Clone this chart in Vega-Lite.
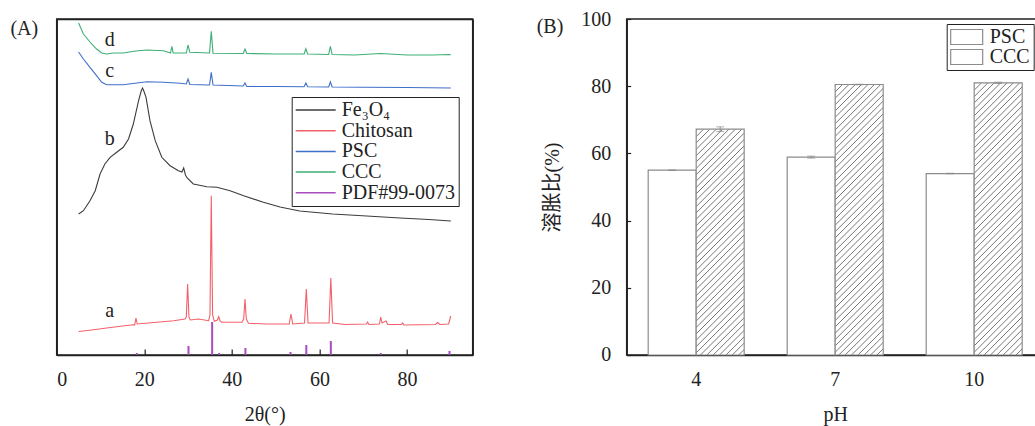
{
"$schema": "https://vega.github.io/schema/vega-lite/v6.json",
"padding": {"left": 8.7, "top": 8, "right": 0, "bottom": 0},
"bounds": "flush",
"spacing": 154,
"resolve": {"scale": {"color": "independent", "stroke": "independent"}, "legend": {"color": "independent", "stroke": "independent"}},
"datasets": {
"xrd": [
{"s":"Fe₃O₄","t":5,"i":141},{"s":"Fe₃O₄","t":6.1,"i":144.3},{"s":"Fe₃O₄","t":7.6,"i":154.3},{"s":"Fe₃O₄","t":8.8,"i":164.3},{"s":"Fe₃O₄","t":9.9,"i":181},{"s":"Fe₃O₄","t":11,"i":191},{"s":"Fe₃O₄","t":12.2,"i":197.7},{"s":"Fe₃O₄","t":13.7,"i":202.7},{"s":"Fe₃O₄","t":15.2,"i":207.7},{"s":"Fe₃O₄","t":16.4,"i":216},{"s":"Fe₃O₄","t":17.5,"i":231},{"s":"Fe₃O₄","t":18.7,"i":254.3},{"s":"Fe₃O₄","t":19.3,"i":264},{"s":"Fe₃O₄","t":19.6,"i":267},{"s":"Fe₃O₄","t":19.9,"i":264},{"s":"Fe₃O₄","t":20.4,"i":257.7},{"s":"Fe₃O₄","t":21.3,"i":234.3},{"s":"Fe₃O₄","t":22.5,"i":214.3},{"s":"Fe₃O₄","t":24,"i":197.7},{"s":"Fe₃O₄","t":25.9,"i":189.3},{"s":"Fe₃O₄","t":27.8,"i":184.3},{"s":"Fe₃O₄","t":28.6,"i":183},{"s":"Fe₃O₄","t":29,"i":187},{"s":"Fe₃O₄","t":29.4,"i":180},{"s":"Fe₃O₄","t":29.8,"i":177},{"s":"Fe₃O₄","t":31.2,"i":171},{"s":"Fe₃O₄","t":34.3,"i":168.3},{"s":"Fe₃O₄","t":36.6,"i":167.7},{"s":"Fe₃O₄","t":39.6,"i":164.3},{"s":"Fe₃O₄","t":42.7,"i":159.3},{"s":"Fe₃O₄","t":47.2,"i":152.7},{"s":"Fe₃O₄","t":51,"i":148},{"s":"Fe₃O₄","t":55.5,"i":144},{"s":"Fe₃O₄","t":63,"i":141},{"s":"Fe₃O₄","t":70.8,"i":139},{"s":"Fe₃O₄","t":78.4,"i":137},{"s":"Fe₃O₄","t":85,"i":135.5},{"s":"Fe₃O₄","t":90,"i":134},
{"s":"Chitosan","t":5,"i":23.5},{"s":"Chitosan","t":8,"i":25},{"s":"Chitosan","t":11.4,"i":27},{"s":"Chitosan","t":15,"i":29},{"s":"Chitosan","t":17.5,"i":30.3},{"s":"Chitosan","t":17.8,"i":30},{"s":"Chitosan","t":18.1,"i":37},{"s":"Chitosan","t":18.4,"i":31},{"s":"Chitosan","t":22.9,"i":32.7},{"s":"Chitosan","t":26.7,"i":34.3},{"s":"Chitosan","t":29.3,"i":36},{"s":"Chitosan","t":29.6,"i":38},{"s":"Chitosan","t":29.9,"i":71},{"s":"Chitosan","t":30.2,"i":38},{"s":"Chitosan","t":30.5,"i":35},{"s":"Chitosan","t":32.4,"i":36},{"s":"Chitosan","t":34.7,"i":34.3},{"s":"Chitosan","t":35,"i":40},{"s":"Chitosan","t":35.3,"i":159.3},{"s":"Chitosan","t":35.6,"i":40},{"s":"Chitosan","t":36,"i":33.7},{"s":"Chitosan","t":36.7,"i":35},{"s":"Chitosan","t":37,"i":38.3},{"s":"Chitosan","t":37.3,"i":34},{"s":"Chitosan","t":37.7,"i":32.7},{"s":"Chitosan","t":42.3,"i":32.7},{"s":"Chitosan","t":42.7,"i":36},{"s":"Chitosan","t":43,"i":56},{"s":"Chitosan","t":43.3,"i":36},{"s":"Chitosan","t":43.8,"i":31.7},{"s":"Chitosan","t":48,"i":31},{"s":"Chitosan","t":53.1,"i":31},{"s":"Chitosan","t":53.5,"i":41},{"s":"Chitosan","t":53.9,"i":31},{"s":"Chitosan","t":56.6,"i":32},{"s":"Chitosan","t":57,"i":66},{"s":"Chitosan","t":57.4,"i":32},{"s":"Chitosan","t":62.2,"i":32},{"s":"Chitosan","t":62.6,"i":77},{"s":"Chitosan","t":63,"i":32},{"s":"Chitosan","t":66,"i":30.5},{"s":"Chitosan","t":70.7,"i":31},{"s":"Chitosan","t":71,"i":33},{"s":"Chitosan","t":71.3,"i":30.5},{"s":"Chitosan","t":73.7,"i":31},{"s":"Chitosan","t":74,"i":38},{"s":"Chitosan","t":74.3,"i":32},{"s":"Chitosan","t":75.2,"i":34},{"s":"Chitosan","t":75.6,"i":30.5},{"s":"Chitosan","t":78.7,"i":30.5},{"s":"Chitosan","t":79,"i":32},{"s":"Chitosan","t":79.3,"i":30},{"s":"Chitosan","t":86.5,"i":30.5},{"s":"Chitosan","t":87,"i":32.5},{"s":"Chitosan","t":87.5,"i":30.5},{"s":"Chitosan","t":89.5,"i":31},{"s":"Chitosan","t":90,"i":39},
{"s":"PSC","t":5,"i":303},{"s":"PSC","t":6.1,"i":296},{"s":"PSC","t":7.6,"i":287.7},{"s":"PSC","t":9.1,"i":279.3},{"s":"PSC","t":10.3,"i":272.7},{"s":"PSC","t":11.4,"i":270.3},{"s":"PSC","t":15.2,"i":270.3},{"s":"PSC","t":20.6,"i":273.3},{"s":"PSC","t":24.4,"i":272.7},{"s":"PSC","t":28.2,"i":271.7},{"s":"PSC","t":29.6,"i":271},{"s":"PSC","t":30,"i":276},{"s":"PSC","t":30.4,"i":270.5},{"s":"PSC","t":34.9,"i":270},{"s":"PSC","t":35.3,"i":282.7},{"s":"PSC","t":35.7,"i":270},{"s":"PSC","t":42.6,"i":269},{"s":"PSC","t":43,"i":272},{"s":"PSC","t":43.4,"i":268.5},{"s":"PSC","t":50,"i":268.5},{"s":"PSC","t":56.5,"i":268.3},{"s":"PSC","t":56.9,"i":272},{"s":"PSC","t":57.3,"i":268.3},{"s":"PSC","t":62.1,"i":268},{"s":"PSC","t":62.5,"i":273},{"s":"PSC","t":62.9,"i":268},{"s":"PSC","t":70,"i":267.7},{"s":"PSC","t":80,"i":267.5},{"s":"PSC","t":90,"i":267},
{"s":"CCC","t":5,"i":332},{"s":"CCC","t":6.1,"i":321},{"s":"CCC","t":7.6,"i":313},{"s":"CCC","t":9.1,"i":306},{"s":"CCC","t":10.3,"i":302},{"s":"CCC","t":11.4,"i":301},{"s":"CCC","t":13,"i":302},{"s":"CCC","t":15.2,"i":302},{"s":"CCC","t":18,"i":304},{"s":"CCC","t":20.6,"i":305},{"s":"CCC","t":24.4,"i":304.3},{"s":"CCC","t":26,"i":302},{"s":"CCC","t":26.3,"i":308.7},{"s":"CCC","t":26.6,"i":302},{"s":"CCC","t":29.6,"i":302},{"s":"CCC","t":30,"i":310},{"s":"CCC","t":30.4,"i":302.7},{"s":"CCC","t":34.9,"i":302},{"s":"CCC","t":35.3,"i":323.7},{"s":"CCC","t":35.7,"i":301.7},{"s":"CCC","t":42.6,"i":301.5},{"s":"CCC","t":43,"i":306},{"s":"CCC","t":43.4,"i":301.5},{"s":"CCC","t":50,"i":301},{"s":"CCC","t":56.5,"i":301},{"s":"CCC","t":56.9,"i":306.3},{"s":"CCC","t":57.3,"i":301},{"s":"CCC","t":62.1,"i":300.5},{"s":"CCC","t":62.5,"i":308.7},{"s":"CCC","t":62.9,"i":300.5},{"s":"CCC","t":68,"i":300},{"s":"CCC","t":74,"i":301.5},{"s":"CCC","t":80,"i":300},{"s":"CCC","t":86,"i":300},{"s":"CCC","t":89.5,"i":300.5},{"s":"CCC","t":90,"i":300.3}
],
"sticks": [
{"s":"PDF#99-0073","t":18.3,"i":2},{"s":"PDF#99-0073","t":30.1,"i":9},{"s":"PDF#99-0073","t":35.5,"i":33},{"s":"PDF#99-0073","t":37.1,"i":2},{"s":"PDF#99-0073","t":43.1,"i":7},{"s":"PDF#99-0073","t":53.4,"i":3},{"s":"PDF#99-0073","t":57,"i":10},{"s":"PDF#99-0073","t":62.6,"i":14},{"s":"PDF#99-0073","t":74,"i":2},{"s":"PDF#99-0073","t":89.7,"i":4}
],
"labels": [
{"t":12.1,"i":315,"lab":"d"},{"t":12.1,"i":283.7,"lab":"c"},{"t":12.1,"i":216,"lab":"b"},{"t":12.1,"i":44.3,"lab":"a"}
],
"bars": [
{"pH":"4","s":"PSC","v":55.0,"lo":54.9,"hi":55.1},
{"pH":"4","s":"CCC","v":67.2,"lo":66.5,"hi":67.9},
{"pH":"7","s":"PSC","v":58.9,"lo":58.6,"hi":59.2},
{"pH":"7","s":"CCC","v":80.5,"lo":80.4,"hi":80.6},
{"pH":"10","s":"PSC","v":54.0,"lo":53.9,"hi":54.1},
{"pH":"10","s":"CCC","v":81.0,"lo":80.8,"hi":81.2}
]
},
"hconcat": [
{
"width": 416, "height": 336,
"view": {"stroke": "#222", "strokeWidth": 1.5},
"title": {"text": "(A)", "anchor": "start", "frame": "group", "orient": "top", "offset": 0, "dx": -46.3, "dy": 29.5, "baseline": "middle", "font": "Liberation Serif", "fontSize": 20, "fontWeight": "normal", "color": "#222"},
"resolve": {"scale": {"x": "independent", "y": "independent"}},
"layer": [
{"data": {"name": "xrd"}, "mark": {"type": "line", "strokeWidth": 1.1},
 "encoding": {
  "x": {"field": "t", "type": "quantitative", "scale": {"domain": [0, 95], "nice": false}, "axis": {"values": [0, 20, 40, 60, 80], "tickSize": -6, "labelPadding": 21, "title": "2θ(°)", "titlePadding": 15}},
  "y": {"field": "i", "type": "quantitative", "scale": {"domain": [0, 336], "nice": false}, "axis": {"orient": "left", "labels": false, "ticks": false, "title": null}},
  "color": {"field": "s", "type": "nominal", "scale": {"domain": ["Fe₃O₄", "Chitosan", "PSC", "CCC", "PDF#99-0073"], "range": ["#3c3c3c", "#f2616b", "#3f6fc9", "#3daf74", "#a84cc0"]},
   "legend": {"title": null, "orient": "none", "legendX": 235, "legendY": 78, "symbolType": "stroke", "symbolSize": 1600, "symbolStrokeWidth": 1.5, "labelFont": "Liberation Serif", "labelFontSize": 20, "labelColor": "#222", "labelOffset": 5, "labelLimit": 300, "strokeColor": "#222", "padding": 3, "rowPadding": 0.7, "clipHeight": 20}}
 }},
{"data": {"name": "sticks"}, "mark": {"type": "rule", "strokeWidth": 2},
 "encoding": {"x": {"field": "t", "type": "quantitative", "scale": {"domain": [0, 95], "nice": false}, "axis": {"orient": "top", "labels": false, "ticks": false, "title": null}}, "y": {"field": "i", "type": "quantitative", "scale": {"domain": [0, 336], "nice": false}, "axis": null}, "y2": {"datum": 0}, "color": {"field": "s", "type": "nominal"}}},
{"data": {"name": "labels"}, "mark": {"type": "text", "font": "Liberation Serif", "fontSize": 20, "color": "#222"},
 "encoding": {"x": {"field": "t", "type": "quantitative", "scale": {"domain": [0, 95], "nice": false}, "axis": null}, "y": {"field": "i", "type": "quantitative", "scale": {"domain": [0, 336], "nice": false}, "axis": {"orient": "right", "labels": false, "ticks": false, "title": null}}, "text": {"field": "lab"}}}
]
},
{
"width": 417, "height": 336,
"view": {"stroke": "#222", "strokeWidth": 1.5},
"title": {"text": "(B)", "anchor": "start", "frame": "group", "orient": "top", "offset": 0, "dx": -90, "dy": 37.5, "baseline": "middle", "font": "Liberation Serif", "fontSize": 20, "fontWeight": "normal", "color": "#222"},
"data": {"name": "bars"},
"encoding": {
 "x": {"field": "pH", "type": "nominal", "scale": {"domain": ["4", "7", "10"], "paddingInner": 0, "paddingOuter": 0}, "axis": {"labelAngle": 0, "tickSize": -6, "labelPadding": 21, "title": "pH", "titlePadding": 15}},
 "xOffset": {"field": "s", "type": "nominal", "scale": {"domain": ["PSC", "CCC"], "paddingInner": 0, "paddingOuter": 0.448}},
 "y": {"field": "v", "type": "quantitative", "scale": {"domain": [0, 100], "nice": false}, "axis": {"values": [0, 20, 40, 60, 80, 100], "tickSize": -4, "labelPadding": 20, "title": "溶胀比(%)", "titleFont": "Liberation Serif, Noto Sans CJK SC", "titlePadding": 18}}
},
"layer": [
{"transform": [{"filter": "datum.s == 'PSC'"}], "mark": {"type": "bar", "fill": "#fff", "strokeWidth": 1.2},
 "encoding": {"stroke": {"field": "s", "type": "nominal", "scale": {"domain": ["PSC", "CCC"], "range": ["#8c8c8c", "#8c8c8c"]},
  "legend": {"title": null, "orient": "none", "legendX": 320, "legendY": 5, "symbolType": "M-1,-0.47H1V0.47H-1Z", "symbolSize": 1024, "symbolStrokeWidth": 1.2, "labelFont": "Liberation Serif", "labelFontSize": 20, "labelColor": "#222", "labelOffset": 6, "strokeColor": "#222", "padding": 3, "rowPadding": 0, "clipHeight": 20}}}},
{"transform": [{"filter": "datum.s == 'CCC' && datum.pH == '4'"}],
 "mark": {"type": "bar", "strokeWidth": 1.2, "fill": {"gradient": "linear", "x1": 0, "y1": 0, "x2": 0.2866, "y2": 1.3483, "stops": [
{"offset":0,"color":"#fff"},{"offset":0.003,"color":"#707070"},{"offset":0.006,"color":"#fff"},{"offset":0.02,"color":"#fff"},{"offset":0.023,"color":"#707070"},{"offset":0.026,"color":"#fff"},{"offset":0.04,"color":"#fff"},{"offset":0.043,"color":"#707070"},{"offset":0.046,"color":"#fff"},{"offset":0.06,"color":"#fff"},{"offset":0.063,"color":"#707070"},{"offset":0.066,"color":"#fff"},{"offset":0.08,"color":"#fff"},{"offset":0.083,"color":"#707070"},{"offset":0.086,"color":"#fff"},{"offset":0.1,"color":"#fff"},{"offset":0.103,"color":"#707070"},{"offset":0.106,"color":"#fff"},{"offset":0.12,"color":"#fff"},{"offset":0.123,"color":"#707070"},{"offset":0.126,"color":"#fff"},{"offset":0.14,"color":"#fff"},{"offset":0.143,"color":"#707070"},{"offset":0.146,"color":"#fff"},{"offset":0.16,"color":"#fff"},{"offset":0.163,"color":"#707070"},{"offset":0.166,"color":"#fff"},{"offset":0.18,"color":"#fff"},{"offset":0.183,"color":"#707070"},{"offset":0.186,"color":"#fff"},{"offset":0.2,"color":"#fff"},{"offset":0.203,"color":"#707070"},{"offset":0.206,"color":"#fff"},{"offset":0.22,"color":"#fff"},{"offset":0.223,"color":"#707070"},{"offset":0.226,"color":"#fff"},{"offset":0.24,"color":"#fff"},{"offset":0.243,"color":"#707070"},{"offset":0.246,"color":"#fff"},{"offset":0.26,"color":"#fff"},{"offset":0.263,"color":"#707070"},{"offset":0.266,"color":"#fff"},{"offset":0.28,"color":"#fff"},{"offset":0.283,"color":"#707070"},{"offset":0.286,"color":"#fff"},{"offset":0.3,"color":"#fff"},{"offset":0.303,"color":"#707070"},{"offset":0.306,"color":"#fff"},{"offset":0.32,"color":"#fff"},{"offset":0.323,"color":"#707070"},{"offset":0.326,"color":"#fff"},{"offset":0.34,"color":"#fff"},{"offset":0.343,"color":"#707070"},{"offset":0.346,"color":"#fff"},{"offset":0.36,"color":"#fff"},{"offset":0.363,"color":"#707070"},{"offset":0.366,"color":"#fff"},{"offset":0.38,"color":"#fff"},{"offset":0.383,"color":"#707070"},{"offset":0.386,"color":"#fff"},{"offset":0.4,"color":"#fff"},{"offset":0.403,"color":"#707070"},{"offset":0.406,"color":"#fff"},{"offset":0.42,"color":"#fff"},{"offset":0.423,"color":"#707070"},{"offset":0.426,"color":"#fff"},{"offset":0.44,"color":"#fff"},{"offset":0.443,"color":"#707070"},{"offset":0.446,"color":"#fff"},{"offset":0.46,"color":"#fff"},{"offset":0.463,"color":"#707070"},{"offset":0.466,"color":"#fff"},{"offset":0.48,"color":"#fff"},{"offset":0.483,"color":"#707070"},{"offset":0.486,"color":"#fff"},{"offset":0.5,"color":"#fff"},{"offset":0.503,"color":"#707070"},{"offset":0.506,"color":"#fff"},{"offset":0.52,"color":"#fff"},{"offset":0.523,"color":"#707070"},{"offset":0.526,"color":"#fff"},{"offset":0.54,"color":"#fff"},{"offset":0.543,"color":"#707070"},{"offset":0.546,"color":"#fff"},{"offset":0.56,"color":"#fff"},{"offset":0.563,"color":"#707070"},{"offset":0.566,"color":"#fff"},{"offset":0.58,"color":"#fff"},{"offset":0.583,"color":"#707070"},{"offset":0.586,"color":"#fff"},{"offset":0.6,"color":"#fff"},{"offset":0.603,"color":"#707070"},{"offset":0.606,"color":"#fff"},{"offset":0.62,"color":"#fff"},{"offset":0.623,"color":"#707070"},{"offset":0.626,"color":"#fff"},{"offset":0.64,"color":"#fff"},{"offset":0.643,"color":"#707070"},{"offset":0.646,"color":"#fff"},{"offset":0.66,"color":"#fff"},{"offset":0.663,"color":"#707070"},{"offset":0.666,"color":"#fff"},{"offset":0.68,"color":"#fff"},{"offset":0.683,"color":"#707070"},{"offset":0.686,"color":"#fff"},{"offset":0.7,"color":"#fff"},{"offset":0.703,"color":"#707070"},{"offset":0.706,"color":"#fff"},{"offset":0.72,"color":"#fff"},{"offset":0.723,"color":"#707070"},{"offset":0.726,"color":"#fff"},{"offset":0.74,"color":"#fff"},{"offset":0.743,"color":"#707070"},{"offset":0.746,"color":"#fff"},{"offset":0.76,"color":"#fff"},{"offset":0.763,"color":"#707070"},{"offset":0.766,"color":"#fff"},{"offset":0.78,"color":"#fff"},{"offset":0.783,"color":"#707070"},{"offset":0.786,"color":"#fff"},{"offset":0.8,"color":"#fff"},{"offset":0.803,"color":"#707070"},{"offset":0.806,"color":"#fff"},{"offset":0.82,"color":"#fff"},{"offset":0.823,"color":"#707070"},{"offset":0.826,"color":"#fff"},{"offset":0.84,"color":"#fff"},{"offset":0.843,"color":"#707070"},{"offset":0.846,"color":"#fff"},{"offset":0.86,"color":"#fff"},{"offset":0.863,"color":"#707070"},{"offset":0.866,"color":"#fff"},{"offset":0.88,"color":"#fff"},{"offset":0.883,"color":"#707070"},{"offset":0.886,"color":"#fff"},{"offset":0.9,"color":"#fff"},{"offset":0.903,"color":"#707070"},{"offset":0.906,"color":"#fff"},{"offset":0.92,"color":"#fff"},{"offset":0.923,"color":"#707070"},{"offset":0.926,"color":"#fff"},{"offset":0.94,"color":"#fff"},{"offset":0.943,"color":"#707070"},{"offset":0.946,"color":"#fff"},{"offset":0.96,"color":"#fff"},{"offset":0.963,"color":"#707070"},{"offset":0.966,"color":"#fff"},{"offset":0.98,"color":"#fff"},{"offset":0.983,"color":"#707070"},{"offset":0.986,"color":"#fff"}]}},
 "encoding": {"stroke": {"field": "s", "type": "nominal"}}},
{"transform": [{"filter": "datum.s == 'CCC' && datum.pH != '4'"}],
 "mark": {"type": "bar", "strokeWidth": 1.2, "fill": {"gradient": "linear", "x1": 0, "y1": 0, "x2": 0.2016, "y2": 1.1384, "stops": [
{"offset":0,"color":"#fff"},{"offset":0.003,"color":"#707070"},{"offset":0.006,"color":"#fff"},{"offset":0.02,"color":"#fff"},{"offset":0.023,"color":"#707070"},{"offset":0.026,"color":"#fff"},{"offset":0.04,"color":"#fff"},{"offset":0.043,"color":"#707070"},{"offset":0.046,"color":"#fff"},{"offset":0.06,"color":"#fff"},{"offset":0.063,"color":"#707070"},{"offset":0.066,"color":"#fff"},{"offset":0.08,"color":"#fff"},{"offset":0.083,"color":"#707070"},{"offset":0.086,"color":"#fff"},{"offset":0.1,"color":"#fff"},{"offset":0.103,"color":"#707070"},{"offset":0.106,"color":"#fff"},{"offset":0.12,"color":"#fff"},{"offset":0.123,"color":"#707070"},{"offset":0.126,"color":"#fff"},{"offset":0.14,"color":"#fff"},{"offset":0.143,"color":"#707070"},{"offset":0.146,"color":"#fff"},{"offset":0.16,"color":"#fff"},{"offset":0.163,"color":"#707070"},{"offset":0.166,"color":"#fff"},{"offset":0.18,"color":"#fff"},{"offset":0.183,"color":"#707070"},{"offset":0.186,"color":"#fff"},{"offset":0.2,"color":"#fff"},{"offset":0.203,"color":"#707070"},{"offset":0.206,"color":"#fff"},{"offset":0.22,"color":"#fff"},{"offset":0.223,"color":"#707070"},{"offset":0.226,"color":"#fff"},{"offset":0.24,"color":"#fff"},{"offset":0.243,"color":"#707070"},{"offset":0.246,"color":"#fff"},{"offset":0.26,"color":"#fff"},{"offset":0.263,"color":"#707070"},{"offset":0.266,"color":"#fff"},{"offset":0.28,"color":"#fff"},{"offset":0.283,"color":"#707070"},{"offset":0.286,"color":"#fff"},{"offset":0.3,"color":"#fff"},{"offset":0.303,"color":"#707070"},{"offset":0.306,"color":"#fff"},{"offset":0.32,"color":"#fff"},{"offset":0.323,"color":"#707070"},{"offset":0.326,"color":"#fff"},{"offset":0.34,"color":"#fff"},{"offset":0.343,"color":"#707070"},{"offset":0.346,"color":"#fff"},{"offset":0.36,"color":"#fff"},{"offset":0.363,"color":"#707070"},{"offset":0.366,"color":"#fff"},{"offset":0.38,"color":"#fff"},{"offset":0.383,"color":"#707070"},{"offset":0.386,"color":"#fff"},{"offset":0.4,"color":"#fff"},{"offset":0.403,"color":"#707070"},{"offset":0.406,"color":"#fff"},{"offset":0.42,"color":"#fff"},{"offset":0.423,"color":"#707070"},{"offset":0.426,"color":"#fff"},{"offset":0.44,"color":"#fff"},{"offset":0.443,"color":"#707070"},{"offset":0.446,"color":"#fff"},{"offset":0.46,"color":"#fff"},{"offset":0.463,"color":"#707070"},{"offset":0.466,"color":"#fff"},{"offset":0.48,"color":"#fff"},{"offset":0.483,"color":"#707070"},{"offset":0.486,"color":"#fff"},{"offset":0.5,"color":"#fff"},{"offset":0.503,"color":"#707070"},{"offset":0.506,"color":"#fff"},{"offset":0.52,"color":"#fff"},{"offset":0.523,"color":"#707070"},{"offset":0.526,"color":"#fff"},{"offset":0.54,"color":"#fff"},{"offset":0.543,"color":"#707070"},{"offset":0.546,"color":"#fff"},{"offset":0.56,"color":"#fff"},{"offset":0.563,"color":"#707070"},{"offset":0.566,"color":"#fff"},{"offset":0.58,"color":"#fff"},{"offset":0.583,"color":"#707070"},{"offset":0.586,"color":"#fff"},{"offset":0.6,"color":"#fff"},{"offset":0.603,"color":"#707070"},{"offset":0.606,"color":"#fff"},{"offset":0.62,"color":"#fff"},{"offset":0.623,"color":"#707070"},{"offset":0.626,"color":"#fff"},{"offset":0.64,"color":"#fff"},{"offset":0.643,"color":"#707070"},{"offset":0.646,"color":"#fff"},{"offset":0.66,"color":"#fff"},{"offset":0.663,"color":"#707070"},{"offset":0.666,"color":"#fff"},{"offset":0.68,"color":"#fff"},{"offset":0.683,"color":"#707070"},{"offset":0.686,"color":"#fff"},{"offset":0.7,"color":"#fff"},{"offset":0.703,"color":"#707070"},{"offset":0.706,"color":"#fff"},{"offset":0.72,"color":"#fff"},{"offset":0.723,"color":"#707070"},{"offset":0.726,"color":"#fff"},{"offset":0.74,"color":"#fff"},{"offset":0.743,"color":"#707070"},{"offset":0.746,"color":"#fff"},{"offset":0.76,"color":"#fff"},{"offset":0.763,"color":"#707070"},{"offset":0.766,"color":"#fff"},{"offset":0.78,"color":"#fff"},{"offset":0.783,"color":"#707070"},{"offset":0.786,"color":"#fff"},{"offset":0.8,"color":"#fff"},{"offset":0.803,"color":"#707070"},{"offset":0.806,"color":"#fff"},{"offset":0.82,"color":"#fff"},{"offset":0.823,"color":"#707070"},{"offset":0.826,"color":"#fff"},{"offset":0.84,"color":"#fff"},{"offset":0.843,"color":"#707070"},{"offset":0.846,"color":"#fff"},{"offset":0.86,"color":"#fff"},{"offset":0.863,"color":"#707070"},{"offset":0.866,"color":"#fff"},{"offset":0.88,"color":"#fff"},{"offset":0.883,"color":"#707070"},{"offset":0.886,"color":"#fff"},{"offset":0.9,"color":"#fff"},{"offset":0.903,"color":"#707070"},{"offset":0.906,"color":"#fff"},{"offset":0.92,"color":"#fff"},{"offset":0.923,"color":"#707070"},{"offset":0.926,"color":"#fff"},{"offset":0.94,"color":"#fff"},{"offset":0.943,"color":"#707070"},{"offset":0.946,"color":"#fff"},{"offset":0.96,"color":"#fff"},{"offset":0.963,"color":"#707070"},{"offset":0.966,"color":"#fff"},{"offset":0.98,"color":"#fff"},{"offset":0.983,"color":"#707070"},{"offset":0.986,"color":"#fff"}]}},
 "encoding": {"stroke": {"field": "s", "type": "nominal"}}},
{"mark": {"type": "rule", "color": "#8c8c8c", "strokeWidth": 1},
 "encoding": {"y": {"field": "lo", "type": "quantitative"}, "y2": {"field": "hi"}}},
{"mark": {"type": "tick", "color": "#8c8c8c", "size": 8, "thickness": 1},
 "encoding": {"y": {"field": "hi", "type": "quantitative"}}},
{"mark": {"type": "tick", "color": "#8c8c8c", "size": 8, "thickness": 1},
 "encoding": {"y": {"field": "lo", "type": "quantitative"}}}
]
}
],
"config": {
 "font": "Liberation Serif",
 "background": "white",
 "view": {"stroke": "#222", "strokeWidth": 1.5},
 "axis": {"grid": false, "domainColor": "#222", "domainWidth": 1.5, "tickColor": "#222", "tickWidth": 1.2, "labelFont": "Liberation Serif", "labelFontSize": 20, "labelColor": "#222", "titleFont": "Liberation Serif", "titleFontSize": 20, "titleFontWeight": "normal", "titleColor": "#222"}
}
}
